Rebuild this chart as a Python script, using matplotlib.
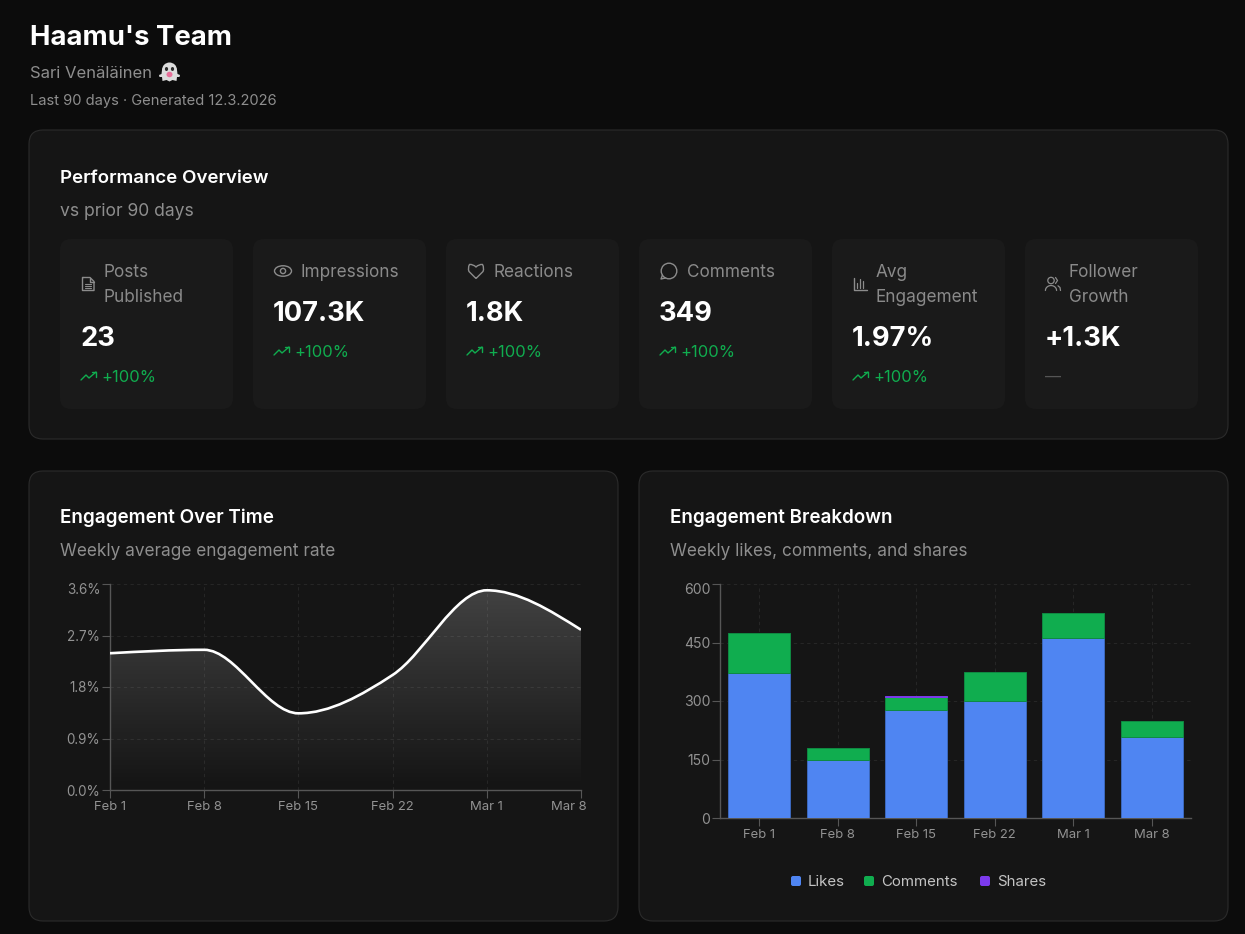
import numpy as np
import matplotlib
matplotlib.use('Agg')
import matplotlib.pyplot as plt
from matplotlib.patches import FancyBboxPatch, PathPatch, Circle, Ellipse
from matplotlib.path import Path
from matplotlib.transforms import ScaledTranslation

plt.rcParams['font.family'] = ['Inter', 'DejaVu Sans']

# stat cards
stat_labels = ['Posts\nPublished', 'Impressions', 'Reactions', 'Comments', 'Avg\nEngagement', 'Follower\nGrowth']
stat_values = ['23', '107.3K', '1.8K', '349', '1.97%', '+1.3K']
stat_changes = ['+100%', '+100%', '+100%', '+100%', '+100%', '—']
stat_icons = ['doc', 'eye', 'heart', 'bubble', 'bars', 'people']

# engagement over time
week_labels = ['Feb 1', 'Feb 8', 'Feb 15', 'Feb 22', 'Mar 1', 'Mar 8']
week_days = [0, 7, 14, 21, 28, 35]
engagement_rate = [2.39, 2.45, 1.34, 2.01, 3.49, 2.80]
rate_ticks = [0, 0.9, 1.8, 2.7, 3.6]

# engagement breakdown
likes = [371, 150, 278, 300, 461, 208]
comments = [103, 30, 31, 74, 65, 41]
shares = [0, 0, 3, 0, 0, 0]
count_ticks = [0, 150, 300, 450, 600]

BG = '#0c0c0c'
CARD = '#151515'
INNER = '#1a1a1a'
EDGE = '#2b2b2b'
WHITE = '#ffffff'
MUTED = '#8e8e8e'
LABEL = '#8a8a8a'
TICK = '#929292'
GREEN = '#10ad4f'
BLUE = '#4f85f2'
PURPLE = '#7c3aed'
AXIS = '#565656'
GRID = '#262626'
W, H = 1245, 934


def px(size):
    return size * 0.72


def card(ax, x0, y0, x1, y1, color, edge='none', r=12):
    ax.add_patch(FancyBboxPatch((x0 + r, y0 + r), x1 - x0 - 2 * r, y1 - y0 - 2 * r,
                                boxstyle='round,pad=%d,rounding_size=%d' % (r, r),
                                fc=color, ec=edge, lw=0.8))


def poly(ax, pts, color, lw=1.0):
    xs, ys = zip(*pts)
    ax.plot(xs, ys, color=color, lw=lw, solid_capstyle='round', solid_joinstyle='round')


def trend(ax, x, y):
    poly(ax, [(x, y + 4), (x + 5, y - 1), (x + 8, y + 2), (x + 15, y - 4)], GREEN, 1.0)
    poly(ax, [(x + 10.5, y - 4), (x + 15, y - 4), (x + 15, y + 0.5)], GREEN, 1.0)


def icon(ax, kind, cx, cy):
    c = '#8c8c8c'
    if kind == 'doc':
        poly(ax, [(cx - 5, cy - 6.5), (cx + 2, cy - 6.5), (cx + 6, cy - 2.5), (cx + 6, cy + 6.5),
                  (cx - 5.5, cy + 6.5), (cx - 5.5, cy - 6.5), (cx - 5, cy - 6.5)], c)
        poly(ax, [(cx + 1.5, cy - 6.5), (cx + 1.5, cy - 2.5), (cx + 6, cy - 2.5)], c)
        for dy in (-0.5, 1.8, 4):
            poly(ax, [(cx - 2.8, cy + dy), (cx + 3, cy + dy)], c, 0.8)
    elif kind == 'eye':
        ax.add_patch(Ellipse((cx, cy), 17, 10.5, fc='none', ec=c, lw=1.0))
        ax.add_patch(Circle((cx, cy), 2.6, fc='none', ec=c, lw=1.0))
    elif kind == 'heart':
        t = [(0, 7.5), (-7, 0.5), (-8.5, -3), (-6.5, -6.5), (-3, -7), (0, -4), (3, -7), (6.5, -6.5), (8.5, -3), (7, 0.5), (0, 7.5)]
        ax.add_patch(PathPatch(Path([(cx + a, cy + b) for a, b in t],
                                    [1, 2, 3, 3, 3, 3, 3, 3, 3, 2, 2]),
                               fc='none', ec=c, lw=1.0))
    elif kind == 'bubble':
        ax.add_patch(Circle((cx, cy), 7.8, fc='none', ec=c, lw=1.0))
        poly(ax, [(cx - 6.5, cy + 4), (cx - 8, cy + 8), (cx - 3.5, cy + 7)], c)
    elif kind == 'bars':
        poly(ax, [(cx - 6.5, cy - 6.5), (cx - 6.5, cy + 6), (cx + 6.5, cy + 6)], c)
        for dx, top in ((-3.2, -1), (0, -5), (3.2, -3)):
            poly(ax, [(cx + dx, cy + 3.5), (cx + dx, cy + top)], c, 0.9)
    elif kind == 'people':
        ax.add_patch(Circle((cx - 2, cy - 3.5), 3.2, fc='none', ec=c, lw=0.9))
        t = np.linspace(np.pi, 2 * np.pi, 12)
        poly(ax, list(zip(cx - 2 + 5.6 * np.cos(t), cy + 6.5 + 5 * np.sin(t))), c, 0.9)
        poly(ax, [(cx + 2.5, cy - 6.5), (cx + 4.5, cy - 3.5), (cx + 2.5, cy - 0.5)], c, 0.9)
        poly(ax, [(cx + 5, cy + 1.8), (cx + 7, cy + 3.5), (cx + 7.5, cy + 6.5)], c, 0.9)


def ghost(ax, cx, cy):
    ax.add_patch(Circle((cx, cy - 2), 7.5, fc='#dcdcdc', ec='none', zorder=3))
    verts = [(cx - 7.5, cy - 2), (cx + 7.5, cy - 2), (cx + 8, cy + 2), (cx + 10.5, cy + 3), (cx + 10, cy + 5),
             (cx + 7.5, cy + 5), (cx + 7, cy + 9), (cx + 3, cy + 8), (cx, cy + 9.5), (cx - 3, cy + 8),
             (cx - 7, cy + 9), (cx - 7.5, cy + 5), (cx - 10, cy + 5), (cx - 10.5, cy + 3), (cx - 8, cy + 2)]
    ax.add_patch(plt.Polygon(verts, fc='#dcdcdc', ec='none', zorder=3))
    ax.add_patch(Ellipse((cx - 3, cy - 3), 3.2, 4, fc='#2b2b2b', zorder=4))
    ax.add_patch(Ellipse((cx + 3, cy - 3), 3.2, 4, fc='#2b2b2b', zorder=4))
    ax.add_patch(Ellipse((cx, cy + 2.5), 6, 5.5, fc='#e8709a', zorder=4))


def monotone_path(x, y):
    # same curve shape as a monotone-x line, built as bezier segments
    x = np.asarray(x, float)
    y = np.asarray(y, float)
    h = np.diff(x)
    s = np.diff(y) / h
    t = np.zeros(len(x))
    for i in range(1, len(x) - 1):
        p = (s[i - 1] * h[i] + s[i] * h[i - 1]) / (h[i - 1] + h[i])
        t[i] = (np.sign(s[i - 1]) + np.sign(s[i])) * min(abs(s[i - 1]), abs(s[i]), 0.5 * abs(p))
    t[0] = (3 * s[0] - t[1]) / 2
    t[-1] = (3 * s[-1] - t[-2]) / 2
    verts = [(x[0], y[0])]
    codes = [Path.MOVETO]
    for i in range(len(x) - 1):
        d = h[i] / 3
        verts += [(x[i] + d, y[i] + d * t[i]), (x[i + 1] - d, y[i + 1] - d * t[i + 1]), (x[i + 1], y[i + 1])]
        codes += [Path.CURVE4] * 3
    return verts, codes


def style_axes(ax, ysize):
    for side in ('top', 'right'):
        ax.spines[side].set_visible(False)
    for side in ('left', 'bottom'):
        ax.spines[side].set_color(AXIS)
        ax.spines[side].set_linewidth(1.0)
    ax.tick_params(axis='x', colors=TICK, color=AXIS, labelsize=px(13), length=5.5, width=0.8, pad=2.5)
    ax.tick_params(axis='y', colors=TICK, color=AXIS, labelsize=px(ysize), length=5.5, width=0.8, pad=1.5)
    ax.set_facecolor('none')


def shift_label(fig, lab, dx, dy):
    lab.set_transform(lab.get_transform() + ScaledTranslation(dx / 100, -dy / 100, fig.dpi_scale_trans))


fig = plt.figure(figsize=(W / 100, H / 100), dpi=100, facecolor=BG)
bg = fig.add_axes([0, 0, 1, 1])
bg.set_xlim(0, W)
bg.set_ylim(H, 0)
bg.axis('off')

# header
bg.text(30, 45, "Haamu's Team", color=WHITE, fontsize=px(27.5), fontweight='bold', va='baseline')
bg.text(30, 78, 'Sari Venäläinen', color=MUTED, fontsize=px(16.7), va='baseline')
ghost(bg, 169.5, 72)
bg.text(30, 105, 'Last 90 days · Generated 12.3.2026', color=MUTED, fontsize=px(14.7), va='baseline')

# performance card
card(bg, 29, 130, 1228, 439, CARD, EDGE, 14)
bg.text(60, 183, 'Performance Overview', color=WHITE, fontsize=px(18.7), fontweight='semibold', va='baseline')
bg.text(60, 216.5, 'vs prior 90 days', color=MUTED, fontsize=px(17.5), va='baseline')

for i in range(6):
    x0 = 60 + i * 193
    card(bg, x0, 239, x0 + 173, 409, INNER, 'none', 11)
    two_lines = '\n' in stat_labels[i]
    tx = x0 + 43.5 if two_lines else x0 + 47.5
    if two_lines:
        a, b = stat_labels[i].split('\n')
        bg.text(tx, 277, a, color=LABEL, fontsize=px(17.2), va='baseline')
        bg.text(tx, 302, b, color=LABEL, fontsize=px(17.2), va='baseline')
        icon(bg, stat_icons[i], x0 + 28, 284)
    else:
        bg.text(tx, 277, stat_labels[i], color=LABEL, fontsize=px(17.2), va='baseline')
        icon(bg, stat_icons[i], x0 + 30, 271)
    vy = 346 if two_lines else 321
    cy = 376 if two_lines else 351
    bg.text(x0 + 20, vy, stat_values[i], color=WHITE, fontsize=px(27.3), fontweight='bold', va='baseline')
    if stat_changes[i] == '—':
        bg.text(x0 + 20, cy + 6, stat_changes[i], color='#555555', fontsize=px(16), va='baseline')
    else:
        trend(bg, x0 + 21, cy)
        bg.text(x0 + 41.5, cy + 6, stat_changes[i], color=GREEN, fontsize=px(16.5), va='baseline')

# lower cards
card(bg, 29, 471, 618, 921, CARD, EDGE, 14)
card(bg, 639, 471, 1228, 921, CARD, EDGE, 14)
bg.text(60, 523, 'Engagement Over Time', color=WHITE, fontsize=px(18.8), fontweight='semibold', va='baseline')
bg.text(60, 556, 'Weekly average engagement rate', color=MUTED, fontsize=px(17.2), va='baseline')
bg.text(670, 523, 'Engagement Breakdown', color=WHITE, fontsize=px(18.8), fontweight='semibold', va='baseline')
bg.text(670, 556, 'Weekly likes, comments, and shares', color=MUTED, fontsize=px(17.2), va='baseline')

# line chart
ax1 = fig.add_axes([110 / W, 1 - 790 / H, 471 / W, 206 / H])
style_axes(ax1, 13.5)
verts, codes = monotone_path(week_days, engagement_rate)
area = Path(verts + [(week_days[-1], 0), (week_days[0], 0), verts[0]],
            codes + [Path.LINETO, Path.LINETO, Path.LINETO])
fade = np.ones((128, 2, 4))
fade[:, :, 3] = np.linspace(0.19, 0.0, 128)[:, None]
im = ax1.imshow(fade, extent=[week_days[0], week_days[-1], 0, max(engagement_rate)],
                origin='upper', aspect='auto', zorder=2)
im.set_clip_path(PathPatch(area, transform=ax1.transData))
ax1.add_patch(PathPatch(Path(verts, codes), fc='none', ec=WHITE, lw=1.9, zorder=3))
ax1.set_xlim(week_days[0], week_days[-1])
ax1.set_ylim(0, rate_ticks[-1])
ax1.set_xticks(week_days)
ax1.set_xticklabels(week_labels)
ax1.set_yticks(rate_ticks)
ax1.set_yticklabels(['%.1f%%' % v for v in rate_ticks])
ax1.grid(True, color=GRID, lw=0.8, ls=(0, (3, 3)), zorder=1)
ax1.set_axisbelow(True)
ax1.get_xticklabels()[-1].set_ha('right')
shift_label(fig, ax1.get_xticklabels()[-1], 6, 0)
shift_label(fig, ax1.get_yticklabels()[-1], 0, 4)

# bar chart
ax2 = fig.add_axes([720 / W, 1 - 818 / H, 471 / W, 234 / H])
style_axes(ax2, 14)
pos = np.arange(len(week_labels))
likes_arr = np.array(likes)
comments_arr = np.array(comments)
shares_arr = np.array(shares)
ax2.bar(pos, likes_arr, 0.795, color=BLUE, ec='#3c68bd', lw=0.7, zorder=3, label='Likes')
ax2.bar(pos, comments_arr, 0.795, bottom=likes_arr, color=GREEN, ec='#0f8a42', lw=0.7, zorder=3, label='Comments')
# only weeks with shares get an edge, or the empty bars would draw a line
ax2.bar(pos, shares_arr, 0.795, bottom=likes_arr + comments_arr, color=PURPLE, ec=PURPLE,
        lw=[0.7 if v > 0 else 0 for v in shares], zorder=4, label='Shares')
ax2.set_xlim(-0.5, 5.5)
ax2.set_ylim(0, count_ticks[-1])
ax2.set_xticks(pos)
ax2.set_xticklabels(week_labels)
ax2.set_yticks(count_ticks)
ax2.grid(True, color=GRID, lw=0.8, ls=(0, (3, 3)), zorder=1)
ax2.set_axisbelow(True)
ax2.axvline(5.5, color=GRID, lw=0.8, ls=(0, (3, 3)), zorder=1)
shift_label(fig, ax2.get_yticklabels()[-1], 0, 4)

# legend
for x, col, name in ((791, BLUE, 'Likes'), (864, GREEN, 'Comments'), (980, PURPLE, 'Shares')):
    card(bg, x, 876, x + 10, 886, col, 'none', 2)
    bg.text(x + 17, 886, name, color='#c4c4c4', fontsize=px(15), va='baseline')

fig.savefig('out.png', dpi=100, facecolor=BG)
